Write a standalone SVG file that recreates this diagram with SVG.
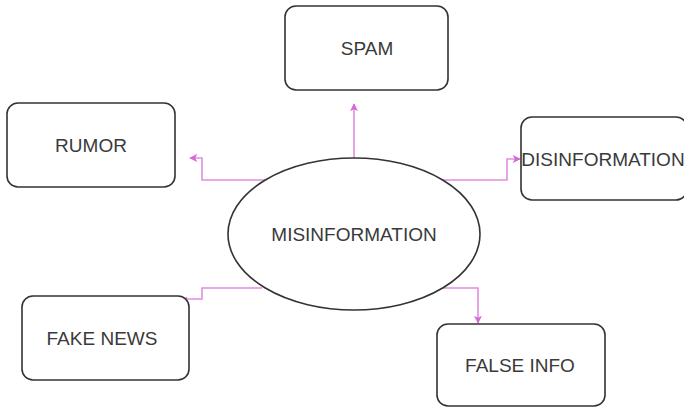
<svg xmlns="http://www.w3.org/2000/svg" width="684" height="408" viewBox="0 0 684 408">
<defs>
<style>
.box{fill:#fff;stroke:#333;stroke-width:1.6}
.lbl{font-family:"Liberation Sans",Arial,sans-serif;font-size:19px;fill:#3a3a3a;text-anchor:middle;dominant-baseline:central}
.con{fill:none;stroke:#df8fdf;stroke-width:1.6}
</style>
<marker id="ah" viewBox="0 0 10 10" refX="9" refY="5" markerWidth="8" markerHeight="8" markerUnits="userSpaceOnUse" orient="auto">
<path d="M0,0 L10,5 L0,10 L2.5,5 Z" fill="#d56ad5"/>
</marker>
<marker id="ahs" viewBox="0 0 10 10" refX="9" refY="5" markerWidth="5" markerHeight="5" markerUnits="userSpaceOnUse" orient="auto">
<path d="M0,0 L10,5 L0,10 L2.5,5 Z" fill="#d56ad5"/>
</marker>
</defs>
<rect width="684" height="408" fill="#fff"/>
<g id="connectors">
<path class="con" d="M354,158 L354,104" marker-end="url(#ah)"/>
<path class="con" d="M265,180 L202,180 L202,158 L190,158" marker-end="url(#ah)"/>
<path class="con" d="M443,180 L507,180 L507,159 L520,159" marker-end="url(#ah)"/>
<path class="con" d="M262,288 L202,288 L202,299 L183,299" marker-end="url(#ahs)"/>
<path class="con" d="M443,288 L478,288 L478,323" marker-end="url(#ah)"/>
</g>
<g id="spam">
<rect class="box" x="285" y="6" width="163" height="84" rx="11"/>
<text class="lbl" x="367" y="48">SPAM</text>
</g>
<g id="rumor">
<rect class="box" x="7" y="103" width="168" height="84" rx="11"/>
<text class="lbl" x="91" y="145">RUMOR</text>
</g>
<g id="disinformation">
<rect class="box" x="521" y="117" width="166" height="83" rx="11"/>
<text class="lbl" x="603" y="159">DISINFORMATION</text>
</g>
<g id="misinformation">
<ellipse class="box" cx="354" cy="234" rx="126" ry="76"/>
<text class="lbl" x="354" y="234">MISINFORMATION</text>
</g>
<g id="fake-news">
<rect class="box" x="22" y="296" width="167" height="84" rx="11"/>
<text class="lbl" x="102" y="338">FAKE NEWS</text>
</g>
<g id="false-info">
<rect class="box" x="437" y="324" width="168" height="82" rx="11"/>
<text class="lbl" x="520" y="365">FALSE INFO</text>
</g>
</svg>
